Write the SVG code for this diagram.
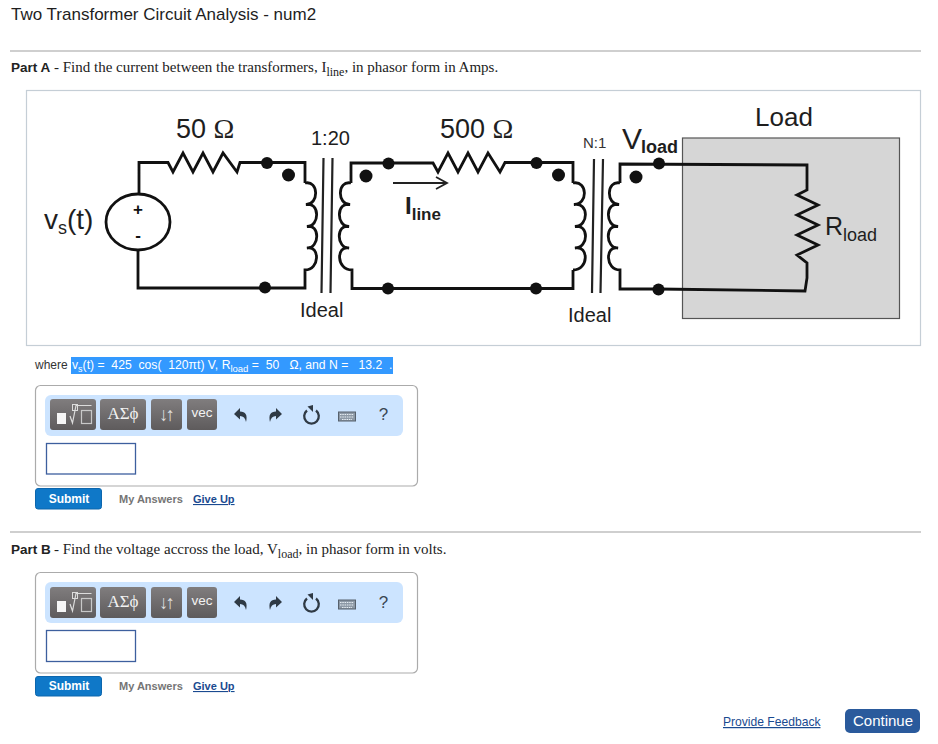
<svg xmlns="http://www.w3.org/2000/svg" width="938" height="744" viewBox="0 0 938 744">
<style>
text{font-family:"Liberation Sans",Arial,sans-serif;fill:#1e1e1e;white-space:pre}
.serif{font-family:"Liberation Serif","Times New Roman",serif;fill:#222}
.w{fill:none;stroke:#111;stroke-width:2.800;stroke-linejoin:miter}
.dot{fill:#111}
.core{fill:none;stroke:#222;stroke-width:2.200}
.rule{stroke:#cfcfcf;stroke-width:2}
.box{fill:#fff;stroke:#ababab;stroke-width:1.200}
.bar{fill:#cce4ff}
.btn{fill:url(#g)}
.inp{fill:#fff;stroke:#3d5f9e;stroke-width:1.300}
.sub{fill:#0f78c8;stroke:#0c66ad}
.subt{font-size:12px;font-weight:bold;fill:#fff;text-anchor:middle}
.my{font-size:11px;font-weight:bold;fill:#757575}
.lnk{fill:#1a4a90;text-decoration:underline}
.bt{fill:#f2f2f2;text-anchor:middle}
.arr{fill:#dedede;text-anchor:middle;letter-spacing:-3px}
.ic{fill:#2f3a45}
</style>
<defs>
<linearGradient id="g" x1="0" y1="0" x2="0" y2="1"><stop offset="0" stop-color="#807d7e"/><stop offset="1" stop-color="#5e5b5c"/></linearGradient>
<g id="tools">
<rect x="57" y="14" width="9" height="11" fill="#f6f6f6"/>
<rect x="72.500" y="5.500" width="5" height="6" fill="none" stroke="#dcdcdc"/>
<path d="M70 17l2.500 7l3.500-17.500h15.500" fill="none" stroke="#dcdcdc" stroke-width="1.200"/>
<rect x="81.500" y="11.500" width="10" height="13" fill="none" stroke="#c8c8c8" stroke-width="1.200"/>
<path d="M240 9l-6 6l6 5.500v-3.500q5 0 6 6q2.500-10.500-6-10.500z" class="ic"/>
<path d="M276 9l6 6l-6 5.500v-3.500q-5 0-6 6q-2.500-10.500 6-10.500z" class="ic"/>
<path d="M307 11.500a7.300 7.300 0 1 0 9 0" fill="none" stroke="#2f3a45" stroke-width="2.300"/>
<path d="M307.500 7.500l5.500-1.500v7z" class="ic"/>
<rect x="338.500" y="13" width="17" height="9" fill="#8d99a6" stroke="#56616d"/>
<path d="M340 15.500h14M340 18h14M342 20.500h10" stroke="#e6edf3" stroke-width="1" stroke-dasharray="1.500 .8"/>
</g>
</defs>
<rect width="938" height="744" fill="#fff"/>

<g id="header">
<text x="11" y="20" font-size="17px">Two Transformer Circuit Analysis - num2</text>
<line class="rule" x1="10" y1="51" x2="921" y2="51"/>
<text x="11" y="72" font-size="13.500px" font-weight="bold" style="fill:#222">Part A</text>
<text x="54" y="72" font-size="15px" class="serif">- Find the current between the transformers, I<tspan font-size="12px" dy="4">line</tspan><tspan dy="-4">, in phasor form in Amps.</tspan></text>
</g>

<rect id="figure-frame" x="26.500" y="90.500" width="894" height="255" fill="#fff" stroke="#c5ced6" stroke-width="1.200"/>
<rect id="load-box" x="682.500" y="138" width="217" height="180.500" fill="#d6d6d6" stroke="#555" stroke-width="1.200"/>

<g id="connectors">
<path class="w" d="M139 194V162.500H168L173 172L183 153L193 172L203 153L213 172L223 153L237 172L240 162.500H305V183"/>
<path class="w" d="M305 183c14-3 14 22 1 21.500c14-3 14 22 1 22c13-3 13 21.500 0 21.500c13-3 13 22-2 22V288H138V250"/>
<path class="w" d="M351 183c-14-3-14 22-1 21.500c-14-3-14 22-1 22c-13-3-13 21.500 0 21.500c-13-3-13 22 3 22V288.500H573V270"/>
<path class="w" d="M351 183V163H433L438 172L448 153L458 172L468 153L478 172L488 153L500 172L505 162.500H573V183"/>
<path class="w" d="M573 183c15-3 15 22 1 21.500c15-3 15 22 1 22c14-3 14 21.500 0 21.500c14-3 14 22-2 22"/>
<path class="w" d="M620 183c-14-3-14 22-1 21.500c-14-3-14 22-1 22c-13-3-13 21.500 0 21.500c-13-3-13 22 2 22V289H658L805 291L807 278V263L797 255L818 245L797 235L818 225L797 215L818 205L797 195L807 190V165L620 164V183"/>
<path class="core" d="M323.500 158L321.500 293M332.500 158L330.500 293M594 159L592 293M603 159L600.500 293"/>
<path d="M393 183H446M436 177L447 183L436 189" fill="none" stroke="#222" stroke-width="1.800"/>
</g>

<g id="source-vs">
<ellipse cx="138" cy="222" rx="32" ry="28" fill="#fff" stroke="#111" stroke-width="2.800"/>
<text x="138" y="215" font-size="17px" font-weight="bold" text-anchor="middle" style="fill:#111">+</text>
<text x="138" y="241" font-size="17px" font-weight="bold" text-anchor="middle" style="fill:#111">-</text>
<text x="44" y="229" font-size="28px">v<tspan font-size="18px" dy="5">s</tspan><tspan dy="-5">(t)</tspan></text>
</g>
<g id="resistor-50">
<text x="176" y="138" font-size="27px">50 <tspan class="serif" font-size="28px">Ω</tspan></text>
</g>
<g id="transformer-1">
<text x="311" y="145" font-size="20px">1:20</text>
<text x="300" y="317" font-size="20px">Ideal</text>
</g>
<g id="resistor-500">
<text x="440" y="138" font-size="27px">500 <tspan class="serif" font-size="28px">Ω</tspan></text>
</g>
<g id="current-label">
<text x="405" y="214" font-size="24px" font-weight="bold">I<tspan font-size="17px" dy="6">line</tspan></text>
</g>
<g id="transformer-2">
<text x="583" y="148" font-size="15px" style="fill:#333">N:1</text>
<text x="568" y="322" font-size="20px">Ideal</text>
</g>
<g id="vload-label">
<text x="622" y="149" font-size="30px">V</text>
<text x="641" y="153" font-size="18px" font-weight="bold">load</text>
</g>
<g id="load-label">
<text x="755" y="126" font-size="26px">Load</text>
</g>
<g id="rload-label">
<text x="825" y="235" font-size="25px">R<tspan font-size="18px" dy="6">load</tspan></text>
</g>
<g id="terminals">
<circle class="dot" cx="267" cy="163" r="6"/><circle class="dot" cx="288.500" cy="175" r="6.500"/><circle class="dot" cx="265" cy="287.500" r="6"/>
<circle class="dot" cx="388.500" cy="163.500" r="6"/><circle class="dot" cx="366" cy="176" r="6.500"/><circle class="dot" cx="388" cy="288.500" r="6"/>
<circle class="dot" cx="536.500" cy="163" r="6"/><circle class="dot" cx="558.500" cy="175" r="6.500"/><circle class="dot" cx="536" cy="288.500" r="6"/>
<circle class="dot" cx="659" cy="163.500" r="6"/><circle class="dot" cx="636" cy="177" r="6.500"/><circle class="dot" cx="658.500" cy="289.500" r="6"/>
</g>

<g id="where-line">
<rect x="71" y="357" width="322" height="17" fill="#3399ff"/>
<text x="35" y="369" font-size="12px" style="fill:#333">where</text>
<text x="72" y="369" font-size="12.200px" style="fill:#fff">v<tspan font-size="9px" dy="3">s</tspan><tspan dy="-3">(t) =  425  cos(  120πt) V, R</tspan><tspan font-size="9.500px" dy="3">load</tspan><tspan dy="-3"> =  50   Ω, and N =   13.2  .</tspan></text>
</g>

<g id="answer-a">
<rect class="box" x="35.500" y="385.500" width="382" height="100.500" rx="5"/>
<rect class="bar" x="45" y="395" width="358" height="41" rx="6"/>
<rect class="btn" x="50" y="399" width="46" height="31" rx="3"/>
<rect class="btn" x="100" y="399" width="46" height="31" rx="3"/>
<rect class="btn" x="151" y="399" width="31" height="31" rx="3"/>
<rect class="btn" x="187" y="399" width="30" height="31" rx="3"/>
<use href="#tools" y="399"/>
<text class="serif bt" x="123" y="419" font-size="17px" style="fill:#f2f2f2">ΑΣϕ</text>
<text class="arr" x="165.500" y="421" font-size="19px">↓↑</text>
<text class="bt" x="202" y="417" font-size="13.500px">vec</text>
<text x="383.500" y="420" font-size="17px" text-anchor="middle" style="fill:#3a4754">?</text>
<rect class="inp" x="46.500" y="443.500" width="89" height="30.500"/>
<rect class="sub" x="35.500" y="488.500" width="66" height="20.500" rx="2.500"/>
<text class="subt" x="69" y="503">Submit</text>
<text class="my" x="119" y="503">My Answers</text>
<text class="my lnk" x="193" y="503">Give Up</text>
</g>

<g id="part-b">
<line class="rule" x1="10" y1="532" x2="921" y2="532"/>
<text x="11" y="554" font-size="13.500px" font-weight="bold" style="fill:#222">Part B</text>
<text x="54" y="554" font-size="15px" class="serif">- Find the voltage accross the load, V<tspan font-size="12px" dy="4">load</tspan><tspan dy="-4">, in phasor form in volts.</tspan></text>
</g>

<g id="answer-b">
<rect class="box" x="35.500" y="572.500" width="382" height="100.500" rx="5"/>
<rect class="bar" x="45" y="582" width="358" height="41" rx="6"/>
<rect class="btn" x="50" y="587" width="46" height="31" rx="3"/>
<rect class="btn" x="100" y="587" width="46" height="31" rx="3"/>
<rect class="btn" x="151" y="587" width="31" height="31" rx="3"/>
<rect class="btn" x="187" y="587" width="30" height="31" rx="3"/>
<use href="#tools" y="587"/>
<text class="serif bt" x="123" y="607" font-size="17px" style="fill:#f2f2f2">ΑΣϕ</text>
<text class="arr" x="165.500" y="609" font-size="19px">↓↑</text>
<text class="bt" x="202" y="605" font-size="13.500px">vec</text>
<text x="383.500" y="608" font-size="17px" text-anchor="middle" style="fill:#3a4754">?</text>
<rect class="inp" x="46.500" y="630.500" width="89" height="31"/>
<rect class="sub" x="35.500" y="676.500" width="66" height="19.500" rx="2.500"/>
<text class="subt" x="69" y="690">Submit</text>
<text class="my" x="119" y="690">My Answers</text>
<text class="my lnk" x="193" y="690">Give Up</text>
</g>

<g id="footer">
<text class="lnk" x="723" y="726" font-size="12.100px">Provide Feedback</text>
<rect x="845" y="709" width="75" height="24" rx="5" fill="#2a5a9c"/>
<text x="883" y="726" font-size="15px" text-anchor="middle" style="fill:#fff">Continue</text>
</g>
</svg>
